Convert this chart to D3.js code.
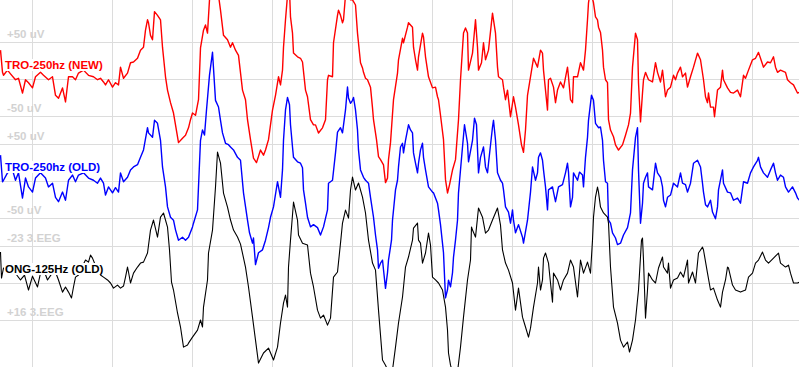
<!DOCTYPE html>
<html><head><meta charset="utf-8">
<script src="https://cdn.jsdelivr.net/npm/d3@7"></script>
<style>html,body{margin:0;padding:0;background:#fff;overflow:hidden}</style>
</head><body><svg id="c" width="799" height="367"></svg>
<script>
// sample index -> value
const timeGridTicks = [31,111,191,271,351,431,511,591,671,751];
const channelNames = ["TRO-250hz (NEW)", "TRO-250hz (OLD)", "ONG-125Hz (OLD)"];
const uvTicks = [-50, 0, 50];
const uvTickLabels = ["-50 uV", "", "+50 uV"];
const eegTicks = [-23, -3.5, 16];
const eegTickLabels = ["-23 3.EEG", "", "+16 3.EEG"];

const traceNew = [[0,39],[2,9],[3,5],[7,12],[10,7],[15,-1],[18,1],[22,-19],[25,-1],[28,-5],[32,-12],[35,3],[40,9],[43,5],[48,-1],[52,3],[55,-22],[58,-26],[62,-12],[65,-31],[68,3],[72,3],[75,-1],[78,8],[83,12],[88,5],[93,3],[97,-1],[100,1],[103,-4],[105,-8],[108,-1],[112,-11],[115,-5],[118,-8],[120,16],[123,1],[127,8],[130,22],[133,23],[137,28],[140,39],[143,43],[145,66],[147,80],[148,76],[150,59],[152,53],[154,91],[157,86],[160,80],[162,43],[165,3],[167,-15],[170,-32],[173,-46],[175,-62],[178,-86],[182,-80],[185,-76],[188,-66],[190,-55],[192,-46],[195,-49],[198,-28],[200,42],[203,66],[205,73],[207,62],[209,107],[212,161],[215,147],[218,113],[220,93],[223,59],[227,53],[230,43],[232,49],[235,39],[238,32],[242,-15],[245,-28],[247,-55],[250,-82],[253,-107],[256,-113],[260,-96],[263,-103],[265,-96],[268,-82],[272,-42],[275,-22],[278,3],[280,-8],[282,12],[283,43],[285,80],[287,113],[289,120],[290,84],[292,62],[293,35],[297,30],[300,28],[302,23],[305,-15],[307,-24],[310,-55],[313,-62],[315,-62],[318,-73],[322,-66],[325,-55],[327,-1],[328,5],[332,3],[333,49],[337,86],[338,93],[340,86],[342,76],[343,80],[345,113],[347,127],[350,107],[352,107],[355,100],[357,62],[360,22],[362,15],[363,9],[365,1],[367,-1],[370,-11],[372,-39],[373,-55],[376,-82],[378,-105],[380,-109],[383,-116],[385,-140],[387,-134],[388,-109],[390,-86],[393,-28],[397,8],[398,26],[402,55],[403,49],[407,70],[408,76],[412,70],[413,43],[415,26],[417,12],[418,30],[422,62],[423,57],[425,30],[428,3],[432,-12],[435,-11],[437,-24],[438,-28],[440,-49],[443,-82],[445,-136],[447,-154],[449,-143],[452,-123],[455,-109],[458,-55],[460,-1],[463,62],[465,69],[467,62],[468,12],[472,35],[475,80],[477,43],[478,12],[481,22],[483,49],[485,26],[488,39],[492,89],[493,80],[495,62],[497,16],[498,3],[502,-1],[503,-11],[505,-28],[507,-15],[510,-51],[513,-24],[515,-38],[518,-62],[521,-89],[523,-99],[525,-69],[527,-22],[530,3],[533,28],[537,16],[540,39],[542,35],[543,12],[545,-15],[547,-42],[548,-1],[550,1],[553,-11],[555,-32],[557,-15],[560,-4],[563,-12],[567,16],[568,3],[570,-28],[572,-32],[573,3],[577,3],[580,22],[583,12],[585,39],[587,80],[588,103],[590,120],[593,103],[595,84],[597,80],[598,70],[600,63],[602,39],[603,16],[605,-1],[607,-5],[608,-55],[610,-69],[613,-78],[615,-89],[618,-96],[622,-89],[625,-76],[628,-62],[630,-46],[632,16],[635,62],[637,53],[638,-5],[640,-58],[642,-19],[643,-1],[645,9],[648,-1],[652,-4],[655,22],[657,9],[660,-4],[662,12],[665,-24],[667,-15],[670,-11],[673,5],[675,-1],[677,8],[680,16],[682,3],[685,8],[687,-11],[690,3],[693,16],[697,35],[698,32],[700,26],[703,-1],[705,-24],[707,-32],[708,-19],[710,-38],[713,-38],[714,-51],[717,-15],[720,-11],[722,12],[723,-1],[727,-12],[730,-18],[733,-19],[737,-15],[740,-24],[743,5],[745,1],[748,12],[752,26],[755,28],[758,36],[760,28],[763,16],[767,23],[770,22],[773,30],[775,16],[777,9],[780,12],[785,9],[787,-1],[790,-5],[793,-8],[797,-19],[799,-18]];

const traceOld = [[0,35],[2,-1],[3,1],[7,11],[12,15],[15,1],[18,11],[22,-23],[25,4],[28,-8],[32,-15],[35,4],[40,11],[45,4],[48,-8],[52,-3],[55,-22],[58,-28],[62,-15],[65,-26],[68,1],[72,8],[75,-1],[78,8],[83,11],[88,4],[93,1],[97,-3],[100,4],[103,-3],[105,-19],[108,-8],[112,-16],[115,-9],[118,-15],[120,11],[123,-1],[127,5],[130,15],[133,19],[137,22],[140,32],[143,42],[147,72],[148,65],[152,59],[154,82],[157,78],[160,55],[162,19],[165,-8],[167,-35],[170,-49],[173,-53],[175,-66],[178,-80],[182,-76],[185,-80],[188,-76],[192,-62],[193,-57],[197,-39],[200,55],[202,69],[204,62],[206,96],[209,143],[212,174],[215,109],[218,100],[220,82],[222,65],[225,51],[228,49],[230,46],[233,42],[237,32],[240,28],[243,-16],[247,-53],[249,-70],[252,-84],[253,-77],[255,-113],[258,-97],[262,-93],[265,-80],[268,-63],[270,-49],[273,-35],[277,-1],[280,-22],[282,15],[283,55],[285,96],[287,113],[289,103],[290,76],[292,46],[293,32],[297,26],[300,24],[302,18],[303,-12],[305,-30],[307,-49],[310,-62],[313,-59],[317,-63],[320,-73],[323,-62],[327,-39],[328,-3],[332,1],[335,38],[337,66],[340,72],[342,65],[345,96],[347,127],[348,112],[350,105],[352,109],[353,113],[355,96],[357,69],[358,42],[360,15],[363,5],[365,1],[368,-3],[370,-22],[373,-49],[375,-73],[377,-93],[378,-118],[380,-111],[382,-107],[383,-120],[385,-145],[387,-124],[388,-107],[390,-89],[391,-80],[392,-53],[395,-12],[397,1],[398,19],[400,46],[402,51],[403,38],[405,55],[408,76],[410,69],[412,65],[413,38],[415,24],[417,11],[418,24],[420,42],[422,51],[423,32],[425,15],[428,-8],[432,-15],[433,-16],[437,-30],[438,-39],[440,-59],[443,-97],[445,-158],[447,-147],[448,-134],[450,-143],[452,-124],[453,-103],[455,-80],[457,-53],[458,-16],[462,46],[464,76],[467,51],[468,26],[472,55],[474,85],[476,76],[478,11],[480,32],[483,46],[485,19],[487,11],[488,24],[492,73],[493,82],[495,55],[497,11],[500,1],[502,-3],[503,-12],[505,-35],[508,-42],[510,-57],[512,-39],[513,-53],[515,-70],[518,-59],[522,-76],[523,-84],[527,-53],[530,-15],[532,19],[535,1],[537,11],[538,32],[540,38],[542,28],[543,15],[545,-8],[547,-39],[548,-12],[552,-8],[553,-15],[555,-28],[558,-8],[562,-5],[565,11],[567,24],[568,12],[570,-35],[572,-22],[573,11],[577,1],[579,12],[582,8],[583,-8],[585,32],[587,59],[588,82],[591,116],[593,109],[595,78],[598,72],[600,73],[602,55],[603,28],[605,-1],[607,-3],[608,-53],[610,-57],[612,-70],[615,-77],[617,-86],[620,-84],[623,-73],[627,-63],[630,-43],[632,15],[635,59],[637,72],[638,15],[640,-57],[642,-30],[643,-3],[645,5],[647,11],[648,-8],[652,-12],[655,24],[657,11],[660,5],[662,-8],[663,-26],[665,-35],[667,-22],[670,-19],[673,-3],[677,-8],[680,11],[682,-3],[685,-5],[687,-15],[690,-3],[693,24],[697,28],[700,19],[702,-3],[703,-15],[705,-32],[707,-35],[710,-26],[712,-42],[715,-51],[717,-35],[718,-12],[722,15],[723,-3],[727,-15],[730,-16],[733,-26],[737,-23],[740,-30],[743,-1],[747,-3],[750,11],[753,19],[757,28],[758,32],[760,19],[763,11],[767,5],[770,15],[773,24],[775,11],[777,1],[780,8],[783,5],[785,-8],[788,-15],[792,-8],[795,-16],[797,-23],[799,-26]];

const traceOng = [[0,-19.8],[1,-6.1],[3,-11.4],[8,-10.3],[14,-9.3],[20,-5.1],[24,-7.7],[28,0.2],[32,-7.1],[37,-1.4],[40,-8.7],[44,-9.3],[47,-5.1],[51,-8.2],[55,-9.3],[58,-5.1],[62,1.3],[65,-1.4],[68,1.3],[71,4.4],[73,-1.4],[75,-6.6],[78,-7.7],[80,-10.3],[85,-15.6],[88,-14.5],[90,-18.2],[92,-16.6],[96,-11.4],[100,-7.7],[103,-6.6],[107,-5.1],[110,-3.5],[113,-0.8],[117,-2.4],[120,-0.8],[123,-1.9],[125,-6.6],[127,-11.9],[128,-9.3],[130,-3.5],[133,-8.7],[137,-11.9],[140,-14],[143,-14.5],[147,-19.3],[150,-31.4],[153,-36.7],[157,-27.7],[160,-38.2],[163,-40.4],[167,-33],[169,-20.9],[171,-4],[173,0.2],[177,12.3],[180,19.7],[183,30.3],[187,29.2],[188,28.2],[192,25],[197,21.3],[200,16],[202,19.7],[203,9.2],[207,-5.1],[208,-19.3],[212,-31.4],[215,-54.1],[217,-72.5],[220,-66.7],[223,-50.9],[227,-43.5],[230,-36.7],[233,-31.4],[237,-27.7],[240,-24],[245,-11.9],[248,-1.4],[252,14.5],[255,26.6],[258,38.7],[263,33.4],[268,30.8],[273,37.1],[277,30.3],[280,17.6],[283,7.1],[285,2.9],[287,9.2],[288,-11.9],[290,-26.1],[293,-46.1],[297,-36.7],[298,-28.8],[302,-24.5],[307,-23.5],[310,-8.7],[313,-1.4],[317,10.8],[320,15],[323,13.4],[327,18.7],[330,15],[333,-6.6],[337,-9.3],[340,-24.5],[342,-35.1],[345,-41.9],[348,-37.7],[350,-52.5],[352,-59.3],[355,-52.5],[358,-56.2],[362,-48.8],[365,-40.4],[368,-26.1],[372,-14],[375,-10.3],[378,10.8],[382,37.1],[385,39.8],[388,43.4],[392,42.4],[395,30.3],[398,17.6],[402,3.9],[405,-11.9],[408,-17.2],[412,-26.1],[413,-32.4],[417,-35.1],[418,-26.1],[420,-24.5],[422,-14],[425,-19.3],[428,-29.8],[430,-23.5],[432,-6.6],[435,-5.1],[438,-3.5],[442,0.2],[445,9.2],[447,21.3],[448,33.4],[450,39.8],[453,45],[457,43.4],[460,30.3],[463,14.5],[467,-5.1],[470,-15.6],[471,-33],[472,-31.4],[475,-27.7],[478,-43],[482,-38.2],[485,-29.8],[488,-31.4],[492,-36.7],[497,-43],[500,-34],[502,-20.9],[505,-14],[508,-10.3],[512,-3.5],[515,10.8],[518,-0.8],[522,14.5],[525,19.7],[528,25],[530,20.3],[533,9.2],[537,-3.5],[538,-11.9],[540,0.2],[542,-5.1],[543,-16.6],[545,-19.3],[548,-14],[550,-3.5],[552,6.6],[553,-8.7],[557,-5.1],[560,0.2],[563,-5.1],[567,-8.7],[570,-15.6],[573,-11.9],[577,3.9],[580,-15.6],[583,-8.7],[587,-14.5],[590,-8.7],[592,-26.1],[593,-38.2],[595,-48.8],[597,-54.1],[598,-51.4],[600,-43.5],[603,-40.4],[607,-38.2],[608,-35.1],[610,-11.9],[613,9.2],[617,17.6],[620,26.6],[623,30.3],[627,27.6],[629,32.9],[632,26.6],[635,16],[638,0.2],[641,-26.1],[642,-27.2],[643,-15.6],[645,15],[647,0.2],[648,-8.7],[652,-5.1],[655,-3.5],[658,-11.4],[662,-17.2],[663,-11.9],[667,-8.7],[668,-14],[670,-0.8],[673,-5.1],[677,-6.1],[680,-9.3],[683,-6.6],[687,-15.6],[688,-3.5],[692,-9.3],[695,-3.5],[698,-19.3],[702,-22.4],[703,-20.9],[707,-8.7],[710,0.2],[713,-0.8],[717,5.5],[720,9.2],[722,1.3],[725,-5.1],[727,-11.9],[728,-11.4],[732,-2.4],[735,0.2],[740,1.3],[745,0.2],[748,-6.6],[752,-8.7],[755,-14],[758,-15.6],[762,-19.8],[765,-15.6],[768,-14],[773,-16.6],[778,-19.3],[780,-14],[785,-11.9],[788,-12.9],[790,-8.7],[793,-3.5],[797,-3.5],[799,-4]];

const W = 799, H = 367;
const svg = d3.select("#c");
const x = d3.scaleLinear().domain([0, 799]).range([0.5, 799.5]);

const channels = [
  {name: channelNames[0], data: traceNew, color: "#ff0000", y: d3.scaleLinear().domain([-50, 50]).range([116, 42]), ticks: uvTicks, labels: uvTickLabels, zero: 0, sw: 1.4},
  {name: channelNames[1], data: traceOld, color: "#0000ff", y: d3.scaleLinear().domain([-50, 50]).range([218, 144]), ticks: uvTicks, labels: uvTickLabels, zero: 0, sw: 1.4},
  {name: channelNames[2], data: traceOng, color: "#000000", y: d3.scaleLinear().domain([-23, 16]).range([246, 320]), ticks: eegTicks, labels: eegTickLabels, zero: -3.5, sw: 1.1}
];

svg.append("rect").attr("width", W).attr("height", H).attr("fill", "#fff");
const grid = svg.append("g").attr("stroke", "#dcdcdc").attr("stroke-width", 1).attr("shape-rendering", "crispEdges");
grid.selectAll("line.v").data(timeGridTicks).join("line").attr("class", "v")
  .attr("x1", d => Math.round(x(d)) + 0.5).attr("x2", d => Math.round(x(d)) + 0.5).attr("y1", 0).attr("y2", H);
channels.forEach(ch => {
  grid.selectAll(null).data(ch.ticks).join("line")
    .attr("x1", 0).attr("x2", W)
    .attr("y1", d => Math.round(ch.y(d)) + 0.5).attr("y2", d => Math.round(ch.y(d)) + 0.5);
});

const labelFont = "'Liberation Sans', Arial, sans-serif";
channels.forEach(ch => {
  svg.append("g").selectAll("text").data(ch.ticks.map((t, i) => ({t, l: ch.labels[i]})).filter(d => d.l))
    .join("text")
    .attr("x", 7).attr("y", d => Math.round(ch.y(d.t)) - 4)
    .attr("fill", "#d2d2d2").attr("font-family", labelFont).attr("font-weight", "bold").attr("font-size", "11.5px")
    .text(d => d.l);
});

const clip = svg.append("clipPath").attr("id", "clipA").append("rect").attr("width", W).attr("height", H);
const traces = svg.append("g").attr("clip-path", "url(#clipA)");
channels.forEach(ch => {
  const line = d3.line().x(d => x(d[0])).y(d => ch.y(d[1])).curve(d3.curveLinear);
  traces.append("path").datum(ch.data).attr("d", line)
    .attr("fill", "none").attr("stroke", ch.color).attr("stroke-width", ch.sw).attr("stroke-linejoin", "round");
});

channels.forEach(ch => {
  const g = svg.append("g");
  const yb = Math.round(ch.y(ch.zero)) - 10;
  const t = g.append("text").attr("x", 5).attr("y", yb)
    .attr("fill", ch.color).attr("font-family", labelFont).attr("font-weight", "bold").attr("font-size", "11.5px")
    .text(ch.name);
  const bb = t.node().getBBox();
  g.insert("rect", "text").attr("x", bb.x - 1).attr("y", yb - 10).attr("width", bb.width + 2).attr("height", 12).attr("fill", "#fff");
});
</script>
</body></html>
